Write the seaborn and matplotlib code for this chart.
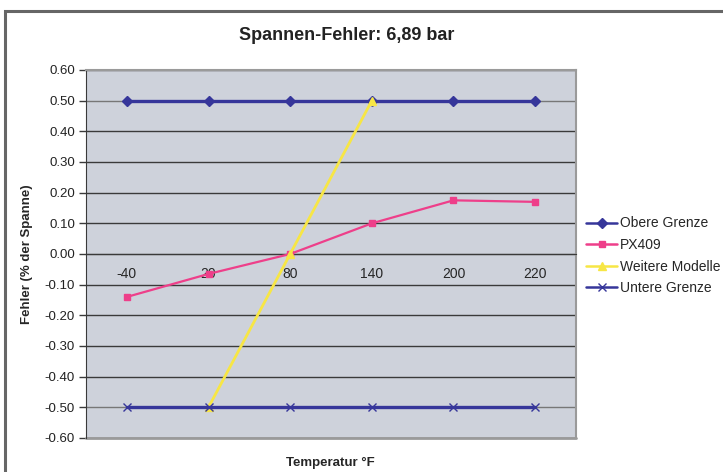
import matplotlib
matplotlib.use("Agg")
import matplotlib.pyplot as plt
import seaborn as sns
import numpy as np
import pandas as pd
from matplotlib.patches import Rectangle

temps = ["-40", "20", "80", "140", "200", "220"]
obere = [0.5, 0.5, 0.5, 0.5, 0.5, 0.5]
px409 = [-0.14, -0.065, 0.0, 0.10, 0.175, 0.17]
weitere = [np.nan, -0.5, 0.0, 0.5, np.nan, np.nan]
untere = [-0.5, -0.5, -0.5, -0.5, -0.5, -0.5]
yticks = [-0.6, -0.5, -0.4, -0.3, -0.2, -0.1, 0.0, 0.1, 0.2, 0.3, 0.4, 0.5, 0.6]

sns.set_style("white")
plt.rcParams['font.family'] = ['Liberation Sans', 'DejaVu Sans']

fig = plt.figure(figsize=(7.23, 4.72), dpi=100)
ax = fig.add_axes([86 / 723, 34 / 472, 490 / 723, 368 / 472])
ax.set_facecolor('#CED2DB')

# outer chart border (runs off the picture on the right and bottom)
fig.patches.append(Rectangle((5 / 723, -0.1), 1.2, (472 - 11) / 472 + 0.1,
                             transform=fig.transFigure, fill=False,
                             edgecolor='#666666', linewidth=2.2))

x = np.arange(len(temps))
df = pd.DataFrame({'x': x, 'Obere Grenze': obere, 'PX409': px409,
                   'Weitere Modelle': weitere, 'Untere Grenze': untere})

# gridlines
for yv in yticks:
    ax.axhline(yv, color='#777777' if abs(yv) == 0.5 else '#3a3a3a',
               linewidth=1.0, zorder=1)

styles = [
    ('Obere Grenze', '#36369A', 'D', 5),
    ('PX409', '#EE3F8A', 's', 5),
    ('Weitere Modelle', '#F7E645', '^', 5.5),
    ('Untere Grenze', '#36369A', 'x', 6),
]
for name, col, mk, ms in styles:
    lw = 2.4 if 'Grenze' in name else 1.6
    if name == 'Weitere Modelle':
        lw = 2.0
    sns.lineplot(data=df.dropna(subset=[name]), x='x', y=name, ax=ax, color=col,
                 marker=mk, markersize=ms, markeredgecolor=col, linewidth=lw,
                 label=name, zorder=3, markeredgewidth=1.0)

ax.set_xlim(-0.5, len(temps) - 0.5)
ax.set_ylim(-0.6, 0.6)
ax.set_yticks(yticks)
ax.set_yticklabels([f"{v:.2f}" for v in yticks], fontsize=9.5, color='#222222')
ax.set_xticks(x)
ax.set_xticklabels(temps, fontsize=9.5, color='#222222')
ax.set_xticks(np.arange(0.5, len(temps) - 0.5, 1.0), minor=True)
ax.tick_params(axis='x', which='major', length=0, pad=9)
ax.tick_params(axis='x', which='minor', length=5, width=1, color='#3a3a3a', direction='out')
ax.tick_params(axis='y', length=5, width=1, color='#3a3a3a', direction='out', left=True, pad=3)

ax.spines['bottom'].set_position(('data', 0))
ax.spines['bottom'].set_color('#3a3a3a')
ax.spines['left'].set_color('#3a3a3a')
for s in ('top', 'right'):
    ax.spines[s].set_color('#9a9a9a')
    ax.spines[s].set_linewidth(1.5)
ax.axhline(-0.6, color='#9a9a9a', linewidth=2.0, zorder=2, clip_on=False)

ax.set_xlabel('')
ax.set_ylabel('Fehler (% der Spanne)', fontsize=9.5, fontweight='bold', labelpad=8)
fig.text(330 / 723, 1 - 463 / 472, 'Temperatur °F', ha='center', va='center',
         fontsize=9.5, fontweight='bold')
fig.text(347 / 723, 1 - 35 / 472, 'Spannen-Fehler: 6,89 bar', ha='center', va='center',
         fontsize=13, fontweight='bold', color='#222222')

leg = ax.legend(loc='center left', bbox_to_anchor=(1.01, 0.495), frameon=False,
                fontsize=10, handlelength=2.2, handletextpad=0.2, labelspacing=0.55,
                borderaxespad=0)
for line in leg.get_lines():
    line.set_linewidth(1.8)

fig.savefig('out.png', dpi=100)
